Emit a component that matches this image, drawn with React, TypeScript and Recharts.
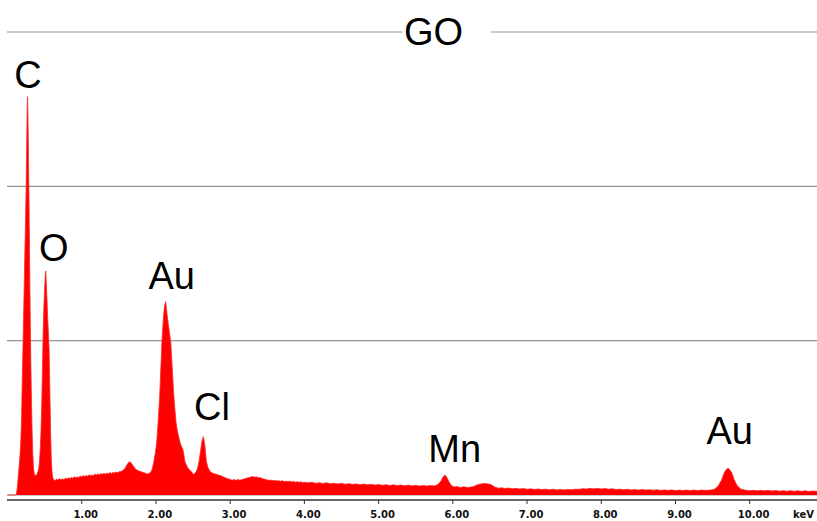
import React from "react";
import {
  AreaChart,
  Area,
  XAxis,
  YAxis,
  CartesianGrid,
  ReferenceDot,
} from "recharts";

// EDS spectrum of the GO sample: [energy (keV), counts]
const CARBON_OXYGEN: [number, number][] = [
  [0, 0], [0.11, 0], [0.12, 8], [0.13, 40], [0.14, 95], [0.15, 150], [0.16, 205],
  [0.17, 270], [0.18, 360], [0.19, 520], [0.2, 780], [0.21, 1000], [0.22, 1240],
  [0.23, 1480], [0.24, 1720], [0.25, 1960], [0.255, 2150], [0.26, 2320],
  [0.265, 2500], [0.27, 2581], [0.275, 2480], [0.28, 2300], [0.29, 1900],
  [0.3, 1420], [0.31, 1000], [0.32, 690], [0.33, 440], [0.34, 270], [0.35, 175],
  [0.36, 138], [0.37, 124], [0.38, 131], [0.39, 127], [0.4, 140], [0.41, 150],
  [0.42, 168], [0.43, 215], [0.44, 290], [0.45, 400], [0.46, 560], [0.47, 800],
  [0.48, 1050], [0.49, 1220], [0.5, 1340], [0.51, 1430], [0.515, 1451],
  [0.52, 1410], [0.53, 1290], [0.54, 1160], [0.55, 1060], [0.56, 950],
  [0.57, 690], [0.58, 420], [0.59, 230], [0.6, 150], [0.61, 112], [0.62, 100],
];

const LOW_BACKGROUND: [number, number][] = [
  [0.64, 94], [0.66, 102], [0.68, 97], [0.7, 106], [0.72, 99], [0.74, 104],
  [0.76, 101], [0.78, 109], [0.8, 104], [0.82, 112], [0.84, 107], [0.86, 113],
  [0.88, 109], [0.9, 118], [0.92, 112], [0.94, 117], [0.96, 114], [0.98, 123],
  [1.0, 117], [1.02, 126], [1.04, 120], [1.06, 127], [1.08, 122], [1.1, 131],
  [1.12, 124], [1.14, 129], [1.16, 127], [1.18, 135], [1.2, 130], [1.22, 137],
  [1.24, 131], [1.26, 139], [1.28, 134], [1.3, 141], [1.32, 135], [1.34, 142],
  [1.36, 138], [1.38, 145], [1.4, 139], [1.42, 146], [1.44, 142], [1.46, 149],
  [1.48, 144], [1.5, 150], [1.53, 152], [1.55, 158], [1.58, 170], [1.6, 188],
  [1.63, 210], [1.65, 216], [1.67, 205], [1.7, 184], [1.72, 170], [1.75, 160],
  [1.78, 154], [1.8, 150], [1.83, 146], [1.85, 143], [1.88, 136], [1.9, 138],
  [1.93, 148],
];

const GOLD_CHLORINE: [number, number][] = [
  [1.95, 168], [1.97, 212], [1.99, 268], [2.0, 303], [2.01, 340], [2.03, 475],
  [2.05, 640], [2.07, 870], [2.08, 990], [2.09, 1070], [2.1, 1140], [2.11, 1200],
  [2.12, 1235], [2.13, 1253], [2.14, 1215], [2.15, 1170], [2.16, 1130],
  [2.18, 1060], [2.2, 990], [2.21, 900], [2.22, 820], [2.24, 650], [2.26, 530],
  [2.27, 475], [2.28, 440], [2.3, 390], [2.32, 350], [2.34, 318], [2.36, 300],
  [2.37, 280], [2.39, 216], [2.41, 195], [2.43, 175], [2.46, 158], [2.48, 150],
  [2.5, 134], [2.52, 138], [2.54, 150], [2.56, 172], [2.58, 216], [2.6, 282],
  [2.62, 350], [2.64, 378], [2.66, 318], [2.68, 216], [2.7, 180], [2.73, 151],
  [2.76, 142], [2.8, 136], [2.85, 128],
];

const MID_BACKGROUND: [number, number][] = [
  [2.88, 124], [2.9, 118], [2.93, 113], [2.95, 108], [2.98, 104], [3.0, 100],
  [3.03, 96], [3.05, 100], [3.08, 95], [3.1, 101], [3.13, 96], [3.15, 99],
  [3.18, 103], [3.2, 106], [3.23, 110], [3.25, 114], [3.28, 116], [3.3, 120],
  [3.33, 115], [3.35, 118], [3.38, 112], [3.4, 114], [3.43, 107], [3.45, 104],
  [3.48, 101], [3.5, 98], [3.53, 94], [3.55, 97], [3.58, 92], [3.6, 96],
  [3.63, 91], [3.65, 93], [3.68, 89], [3.7, 93], [3.73, 87], [3.75, 90],
  [3.78, 86], [3.8, 90], [3.83, 85], [3.85, 88], [3.88, 83], [3.9, 86],
  [3.93, 82], [3.95, 86], [3.98, 80], [4.0, 83], [4.05, 79], [4.1, 82],
  [4.15, 76], [4.2, 79], [4.25, 75], [4.3, 79], [4.35, 73], [4.4, 76],
  [4.45, 72], [4.5, 76], [4.55, 70], [4.6, 73], [4.65, 69], [4.7, 72],
  [4.75, 67], [4.8, 71], [4.85, 66], [4.9, 69], [4.95, 64], [5.0, 68],
  [5.05, 63], [5.1, 67], [5.15, 62], [5.2, 66], [5.25, 61], [5.3, 65],
  [5.35, 60], [5.4, 64], [5.45, 59], [5.5, 63], [5.55, 58], [5.6, 62],
  [5.65, 58], [5.7, 62], [5.75, 59],
];

const MANGANESE_REGION: [number, number][] = [
  [5.8, 68], [5.84, 90], [5.87, 118], [5.895, 130], [5.92, 114], [5.95, 85],
  [5.98, 62], [6.02, 52], [6.06, 55], [6.1, 49], [6.15, 53], [6.2, 48],
  [6.25, 52], [6.28, 55], [6.33, 66], [6.38, 72], [6.43, 75], [6.48, 71],
  [6.52, 66], [6.57, 50], [6.62, 44], [6.66, 47], [6.7, 42], [6.75, 45],
  [6.8, 40], [6.85, 43], [6.9, 39], [6.95, 42], [7.0, 37], [7.05, 40], [7.1, 36],
  [7.15, 39], [7.2, 35], [7.25, 38], [7.3, 34], [7.35, 37], [7.4, 33],
  [7.45, 36], [7.5, 33], [7.55, 36], [7.6, 34], [7.65, 38], [7.7, 37],
  [7.75, 41], [7.8, 39], [7.85, 43], [7.9, 40], [7.95, 43], [8.0, 39],
  [8.05, 42], [8.1, 38], [8.15, 40], [8.2, 36], [8.25, 38], [8.3, 34],
  [8.35, 37], [8.4, 33], [8.45, 35], [8.5, 32], [8.55, 35], [8.6, 32],
  [8.65, 34], [8.7, 31], [8.75, 34], [8.8, 30], [8.85, 33], [8.9, 30],
  [8.95, 33], [9.0, 29], [9.05, 32], [9.1, 29], [9.15, 32], [9.2, 29],
  [9.25, 32], [9.3, 29], [9.35, 32], [9.4, 30],
];

const GOLD_L_REGION: [number, number][] = [
  [9.47, 32], [9.52, 36], [9.57, 55], [9.62, 95], [9.66, 148], [9.69, 168],
  [9.71, 173], [9.73, 165], [9.76, 142], [9.79, 100], [9.83, 62], [9.88, 38],
  [9.95, 31], [10.0, 28], [10.05, 31], [10.1, 27], [10.15, 30], [10.2, 27],
  [10.25, 30], [10.3, 26], [10.35, 29], [10.4, 25], [10.45, 28], [10.5, 25],
  [10.55, 28], [10.6, 24], [10.65, 27], [10.7, 24], [10.75, 27], [10.8, 23],
  [10.85, 26], [10.91, 24],
];

// Element labels: text, energy (keV) of the label centre, count level of its baseline
const PEAK_LABELS: [string, number, number][] = [
  ["C", 0.274, 2637],
  ["O", 0.624, 1519],
  ["Au", 2.212, 1335],
  ["Cl", 2.755, 486],
  ["Mn", 6.025, 214],
  ["Au", 9.73, 330],
];

const TITLE = "GO";
const TITLE_POSITION: [number, number] = [5.74, 3000];

const X_TICKS = [1, 2, 3, 4, 5, 6, 7, 8, 9, 10];
const GRID_LEVELS = [0, 1000, 2000, 3000];
const X_UNIT = "keV";

const spectrum = [
  ...CARBON_OXYGEN,
  ...LOW_BACKGROUND,
  ...GOLD_CHLORINE,
  ...MID_BACKGROUND,
  ...MANGANESE_REGION,
  ...GOLD_L_REGION,
].map(([keV, counts]) => ({ keV, counts }));

const LABEL_FONT = "'Liberation Sans', Arial, sans-serif";
const AXIS_FONT = "'DejaVu Sans', Verdana, sans-serif";

const AxisTick = (props: any) => {
  const { x, y, payload } = props;
  return (
    <text
      x={x + 4}
      y={y}
      dy={12}
      textAnchor="middle"
      fontFamily={AXIS_FONT}
      fontWeight="bold"
      fontSize={10}
      fill="#111"
    >
      {Number(payload.value).toFixed(2)}
    </text>
  );
};

const renderUnit = (props: any) => {
  const vb = props.viewBox;
  return (
    <text
      x={vb.x + vb.width - 24}
      y={vb.y + 18}
      fontFamily={AXIS_FONT}
      fontWeight="bold"
      fontSize={10}
      fill="#111"
    >
      {X_UNIT}
    </text>
  );
};

const peakLabel = (text: string) => (props: any) => {
  const vb = props.viewBox;
  return (
    <text
      x={vb.x}
      y={vb.y}
      textAnchor="middle"
      fontFamily={LABEL_FONT}
      fontSize={38}
      fill="#000"
    >
      {text}
    </text>
  );
};

const titleLabel = (props: any) => {
  const vb = props.viewBox;
  return (
    <g>
      <rect x={vb.x - 31} y={vb.y - 4} width={88.5} height={8} fill="#fff" />
      <text
        x={vb.x}
        y={vb.y + 12.5}
        textAnchor="middle"
        fontFamily={LABEL_FONT}
        fontSize={38}
        fill="#000"
      >
        {TITLE}
      </text>
    </g>
  );
};

export default function App() {
  return (
    <div style={{ position: "absolute", left: 0, top: 0, width: 817, height: 521, background: "#fff" }}>
      <AreaChart
        width={817}
        height={521}
        data={spectrum}
        margin={{ top: 32, right: 0, bottom: 0, left: 7 }}
      >
        <CartesianGrid
          vertical={false}
          horizontalValues={GRID_LEVELS}
          x={7}
          width={810}
          stroke="#949494"
          strokeWidth={1.2}
        />
        <XAxis
          dataKey="keV"
          type="number"
          domain={[-0.007, 10.907]}
          allowDataOverflow
          ticks={X_TICKS}
          interval={0}
          height={21}
          tickSize={4}
          axisLine={{ stroke: "#333", strokeWidth: 1.5 }}
          tickLine={{ stroke: "#333" }}
          tick={<AxisTick />}
          label={{ content: renderUnit }}
        />
        <YAxis hide type="number" domain={[-32.4, 3000]} allowDataOverflow />
        <Area
          type="linear"
          dataKey="counts"
          baseValue={0}
          stroke="#ff2a2a"
          strokeWidth={0.8}
          fill="#ff0000"
          fillOpacity={1}
          dot={false}
          activeDot={false}
          isAnimationActive={false}
        />
        {PEAK_LABELS.map(([text, keV, level], i) => (
          <ReferenceDot
            key={i}
            x={keV}
            y={level}
            r={0}
            stroke="none"
            fill="none"
            label={{ content: peakLabel(text) }}
          />
        ))}
        <ReferenceDot
          x={TITLE_POSITION[0]}
          y={TITLE_POSITION[1]}
          r={0}
          stroke="none"
          fill="none"
          label={{ content: titleLabel }}
        />
      </AreaChart>
    </div>
  );
}
